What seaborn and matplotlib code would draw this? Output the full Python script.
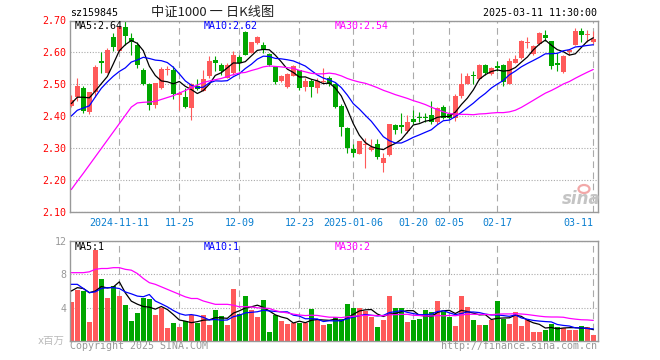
import numpy as np
import pandas as pd
import matplotlib
matplotlib.use('Agg')
import matplotlib.pyplot as plt
from matplotlib.patches import Ellipse
import seaborn as sns

# 日K数据: 2024-10-30 ~ 2025-03-11, 共88个交易日 (从图上读的, 估计值)
open_ = [2.432, 2.459, 2.487, 2.414, 2.474, 2.572, 2.536, 2.647, 2.605, 2.680,
         2.645, 2.624, 2.546, 2.501, 2.434, 2.489, 2.543, 2.546, 2.465, 2.460,
         2.426, 2.494, 2.480, 2.525, 2.575, 2.561, 2.520, 2.535, 2.585, 2.664,
         2.598, 2.629, 2.624, 2.595, 2.554, 2.511, 2.490, 2.527, 2.546, 2.490,
         2.509, 2.489, 2.507, 2.520, 2.499, 2.431, 2.363, 2.296, 2.282, 2.309,
         2.293, 2.311, 2.251, 2.278, 2.371, 2.372, 2.353, 2.390, 2.397, 2.397,
         2.403, 2.382, 2.428, 2.405, 2.395, 2.462, 2.501, 2.530, 2.515, 2.561,
         2.532, 2.556, 2.561, 2.501, 2.567, 2.582, 2.628, 2.595, 2.626, 2.655,
         2.636, 2.567, 2.539, 2.600, 2.624, 2.666, 2.656, 2.632]
high = [2.465, 2.519, 2.494, 2.475, 2.560, 2.602, 2.615, 2.660, 2.682, 2.699,
        2.660, 2.634, 2.550, 2.504, 2.505, 2.553, 2.558, 2.556, 2.478, 2.489,
        2.504, 2.515, 2.546, 2.588, 2.588, 2.567, 2.567, 2.603, 2.593, 2.668,
        2.634, 2.650, 2.632, 2.598, 2.556, 2.530, 2.536, 2.561, 2.546, 2.518,
        2.515, 2.520, 2.551, 2.525, 2.504, 2.438, 2.366, 2.311, 2.322, 2.332,
        2.327, 2.327, 2.285, 2.376, 2.376, 2.410, 2.403, 2.420, 2.414, 2.408,
        2.447, 2.428, 2.434, 2.413, 2.470, 2.535, 2.535, 2.540, 2.564, 2.564,
        2.553, 2.574, 2.564, 2.582, 2.593, 2.638, 2.648, 2.622, 2.664, 2.671,
        2.636, 2.598, 2.591, 2.611, 2.676, 2.678, 2.669, 2.666]
low = [2.428, 2.447, 2.410, 2.405, 2.460, 2.534, 2.534, 2.603, 2.600, 2.624,
       2.593, 2.551, 2.497, 2.418, 2.426, 2.486, 2.530, 2.452, 2.418, 2.426,
       2.386, 2.483, 2.478, 2.520, 2.541, 2.530, 2.518, 2.530, 2.541, 2.593,
       2.597, 2.626, 2.598, 2.556, 2.500, 2.507, 2.488, 2.525, 2.483, 2.480,
       2.459, 2.473, 2.504, 2.495, 2.426, 2.337, 2.285, 2.270, 2.280, 2.238,
       2.291, 2.265, 2.223, 2.275, 2.343, 2.348, 2.348, 2.375, 2.382, 2.380,
       2.376, 2.376, 2.390, 2.390, 2.384, 2.457, 2.499, 2.499, 2.512, 2.530,
       2.530, 2.540, 2.494, 2.499, 2.565, 2.580, 2.614, 2.591, 2.624, 2.636,
       2.549, 2.541, 2.535, 2.591, 2.622, 2.632, 2.632, 2.626]
close = [2.451, 2.495, 2.417, 2.474, 2.555, 2.567, 2.607, 2.616, 2.680, 2.650,
         2.634, 2.561, 2.501, 2.436, 2.504, 2.549, 2.548, 2.468, 2.473, 2.428,
         2.499, 2.485, 2.515, 2.572, 2.567, 2.541, 2.561, 2.593, 2.567, 2.592,
         2.631, 2.648, 2.608, 2.561, 2.507, 2.527, 2.533, 2.556, 2.489, 2.509,
         2.490, 2.509, 2.511, 2.500, 2.428, 2.366, 2.300, 2.285, 2.320, 2.312,
         2.303, 2.270, 2.267, 2.374, 2.355, 2.366, 2.382, 2.382, 2.395, 2.394,
         2.382, 2.426, 2.395, 2.395, 2.462, 2.501, 2.527, 2.525, 2.561, 2.535,
         2.551, 2.551, 2.507, 2.572, 2.580, 2.636, 2.631, 2.620, 2.660, 2.645,
         2.556, 2.561, 2.588, 2.606, 2.666, 2.655, 2.659, 2.643]
# 成交量 (百万)
volume = [4.7, 6.1, 6.0, 2.3, 10.9, 7.4, 5.2, 6.6, 5.4, 4.3,
          2.4, 3.4, 5.2, 5.0, 3.1, 4.0, 1.6, 2.2, 1.7, 2.4,
          3.1, 2.2, 3.1, 1.9, 3.7, 3.0, 1.9, 6.2, 3.3, 5.4,
          3.7, 2.9, 4.9, 1.1, 3.1, 2.4, 2.0, 2.2, 2.2, 2.2,
          3.8, 2.5, 1.9, 2.0, 2.9, 2.7, 4.4, 4.0, 4.0, 3.6,
          2.9, 1.7, 2.5, 5.4, 4.0, 4.0, 2.3, 2.5, 2.6, 3.7,
          3.5, 4.8, 3.5, 2.9, 1.8, 5.4, 4.1, 2.5, 1.9, 1.9,
          2.5, 4.8, 2.7, 2.0, 3.5, 1.8, 2.5, 1.1, 1.1, 1.3,
          2.1, 1.7, 1.6, 1.3, 1.3, 1.8, 1.7, 0.7]

# 均线开头几天要用窗口外的数据, 直接从图上读
ma5_head = [2.439, 2.459, 2.459, 2.457]
ma10_head = [2.400, 2.418, 2.425, 2.432, 2.460, 2.487, 2.507, 2.525, 2.540]
ma30_head = [2.169, 2.195, 2.220, 2.246, 2.272, 2.298, 2.324, 2.350, 2.376, 2.402,
             2.428, 2.441, 2.443, 2.444, 2.446, 2.452, 2.458, 2.464, 2.472, 2.480,
             2.489, 2.497, 2.505, 2.510, 2.514, 2.518, 2.524, 2.530, 2.535]
vol_ma5_head = [6.0, 6.4, 6.3, 5.8]
vol_ma10_head = [6.8, 6.8, 6.3, 5.8, 5.9, 6.3, 6.4, 6.4, 6.3]
vol_ma30_head = [8.2, 8.2, 8.2, 8.3, 8.6, 8.7, 8.7, 8.8, 8.8, 8.6,
                 8.5, 8.1, 7.5, 7.0, 6.8, 6.5, 6.2, 5.9, 5.6, 5.3,
                 5.1, 5.1, 4.8, 4.6, 4.4, 4.4, 4.4, 4.3, 4.1]

# 图例上显示的最新均线值
price_ma_text = ['MA5:2.64', 'MA10:2.62', 'MA30:2.54']
vol_ma_text = ['MA5:1', 'MA10:1', 'MA30:2']

tick_idx = [8, 18, 28, 38, 47, 57, 63, 71, 87]
tick_labels = ['2024-11-11', '11-25', '12-09', '12-23', '2025-01-06',
               '01-20', '02-05', '02-17', '03-11']

RED = '#ff5a5a'
GREEN = '#00a600'
GRID = '#aaaaaa'
MA_COLORS = ['black', '#0000ff', '#ff00ff']


def moving_avg(values, n, head):
    s = pd.Series(values).rolling(n).mean()
    s.iloc[:len(head)] = head
    return s.values


df = pd.DataFrame({'open': open_, 'high': high, 'low': low,
                   'close': close, 'volume': volume})
df['idx'] = np.arange(len(df))
df['ma5'] = moving_avg(close, 5, ma5_head)
df['ma10'] = moving_avg(close, 10, ma10_head)
df['ma30'] = moving_avg(close, 30, ma30_head)
df['vma5'] = moving_avg(volume, 5, vol_ma5_head)
df['vma10'] = moving_avg(volume, 10, vol_ma10_head)
df['vma30'] = moving_avg(volume, 30, vol_ma30_head)
colors = np.where(df['close'] >= df['open'], RED, GREEN)

sns.set_style('white')
plt.rcParams['font.family'] = ['DejaVu Sans Mono', 'Noto Sans CJK SC']
FS = 7.2

fig = plt.figure(figsize=(6.6, 3.6), dpi=100)
W, H = 660, 360


def box(l, t, r, b):
    return [l / W, 1 - b / H, (r - l) / W, (b - t) / H]


ax = fig.add_axes(box(70, 20.5, 598, 211.5))
ax2 = fig.add_axes(box(70, 241, 598, 341))

# K线
ax.vlines(df['idx'], df['low'], df['high'], colors=colors, lw=0.8, zorder=2)
body = np.maximum((df['close'] - df['open']).abs(), 0.003)
ax.bar(df['idx'], body, bottom=np.minimum(df['open'], df['close']),
       width=0.78, color=colors, linewidth=0, zorder=3)
for col, c in zip(['ma5', 'ma10', 'ma30'], MA_COLORS):
    sns.lineplot(data=df, x='idx', y=col, color=c, lw=0.9, ax=ax, zorder=4)

# 成交量
ax2.bar(df['idx'], df['volume'], width=0.8, color=colors, linewidth=0, zorder=2)
for col, c in zip(['vma5', 'vma10', 'vma30'], MA_COLORS):
    sns.lineplot(data=df, x='idx', y=col, color=c, lw=0.9, ax=ax2, zorder=4)

for a in (ax, ax2):
    a.set_xlim(-0.22, 87.78)
    a.set_xlabel('')
    a.set_ylabel('')
    a.set_xticks(tick_idx)
    a.grid(axis='x', color=GRID, lw=0.8, linestyle=(0, (6, 4)), zorder=0)
    a.grid(axis='y', color=GRID, lw=0.8, linestyle=(0, (1, 1.5)), zorder=0)
    for s in a.spines.values():
        s.set_color('#999999')
        s.set_linewidth(1.0)
    a.tick_params(length=0, pad=2.6)

ax.set_ylim(2.10, 2.70)
ax.set_yticks(np.arange(2.10, 2.71, 0.10))
ax.set_yticklabels([f'{v:.2f}' for v in np.arange(2.10, 2.71, 0.10)],
                   color='#ff0000', fontsize=FS)
ax.set_xticklabels(tick_labels, color='#0a7fd0', fontsize=FS)
ax.tick_params(axis='x', pad=5)
ax.get_xticklabels()[-1].set_ha('right')

ax2.set_ylim(0, 12)
ax2.set_yticks([4, 8, 12])
ax2.set_yticklabels(['4', '8', '12'], color='#999999', fontsize=FS)
ax2.set_xticklabels([])


def txt(x, y, s, **kw):
    kw.setdefault('fontsize', FS)
    kw.setdefault('va', 'center')
    fig.text(x / W, 1 - y / H, s, **kw)


for x0, s, c in zip([75, 204, 335], price_ma_text, MA_COLORS):
    txt(x0, 26, s, color=c)
for x0, s, c in zip([75, 204, 335], vol_ma_text, MA_COLORS):
    txt(x0, 247, s, color=c)

txt(70, 13, 'sz159845', color='black')
txt(213, 12, '中证1000 一 日K线图', ha='center', fontsize=9.5,
    family=['Noto Sans CJK SC'], color='#222222')
txt(597, 13, '2025-03-11 11:30:00', ha='right', color='black')
txt(70, 346, 'Copyright 2025 SINA.COM', color='#999999')
txt(597, 346, 'http://finance.sina.com.cn', ha='right', color='#999999')
txt(65, 341, 'x百万', ha='right', color='#bbbbbb', fontsize=7.5,
    family=['DejaVu Sans', 'Noto Sans CJK SC'])

# 新浪水印
txt(581, 199, 'sina', ha='center', color='#c4c4c4', fontsize=12,
    fontweight='bold', fontstyle='italic', family=['DejaVu Sans'])
fig.patches.append(Ellipse((584 / W, 1 - 189 / H), 11 / W, 8 / H,
                           transform=fig.transFigure, fill=False,
                           edgecolor='#f2a8a8', lw=1.6))

fig.savefig('out.png', dpi=100)
